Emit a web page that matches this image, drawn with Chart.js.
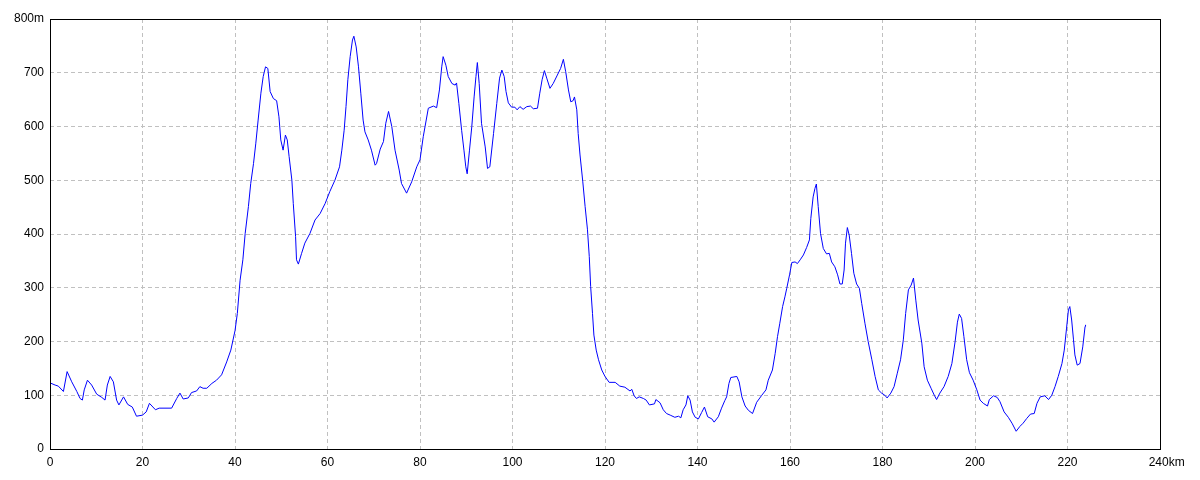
<!DOCTYPE html>
<html>
<head>
<meta charset="utf-8">
<script src="https://cdn.jsdelivr.net/npm/chart.js@4"></script>
<style>
  html, body { margin: 0; padding: 0; background: #fff; }
  #wrap { width: 1200px; height: 480px; }
</style>
</head>
<body>
<div id="wrap"><canvas id="myChart" width="1200" height="480"></canvas></div>
<script>
// distance along route (km) and elevation (m)
const distanceKm = [
  0, 1.1, 1.8, 2.9, 3.7, 4.7, 5.8, 6.5, 7.0, 7.4, 8.1, 9.0, 10.1, 11.2, 11.9, 12.4, 13.0, 13.7, 14.4, 14.9,
  15.9, 16.8, 17.8, 18.7, 20.0, 20.8, 21.5, 22.8, 23.6, 26.3, 27.4, 28.1, 28.8, 29.9, 30.6, 31.7, 32.4, 33.1, 33.9, 35.0,
  36.0, 37.1, 38.2, 39.1, 40.0, 40.5, 41.1, 41.7, 42.2, 42.9, 43.4, 44.0, 44.5, 45.0, 45.6, 46.1, 46.6, 47.1, 47.6, 48.3,
  49.0, 49.5, 49.9, 50.4, 50.9, 51.3, 51.7, 52.3, 52.6, 53.1, 53.3, 53.7, 54.4, 55.1, 56.2, 57.3, 58.4, 59.5, 60.5, 61.6,
  62.6, 63.1, 63.6, 64.0, 64.4, 64.9, 65.4, 65.7, 66.2, 66.7, 67.2, 67.7, 68.1, 68.8, 69.5, 70.3, 70.6, 71.4, 72.1, 72.6,
  73.2, 73.9, 74.6, 75.5, 76.0, 77.1, 78.2, 79.3, 80.0, 80.7, 81.8, 82.9, 83.6, 84.2, 84.7, 85.0, 85.6, 86.1, 86.9, 87.6,
  87.9, 88.4, 89.0, 89.5, 89.9, 90.2, 90.7, 91.2, 91.7, 92.1, 92.4, 92.8, 93.3, 94.1, 94.6, 95.1, 95.9, 96.6, 97.2, 97.7,
  98.2, 98.6, 99.1, 99.8, 100.5, 101.0, 101.6, 102.3, 103.1, 103.9, 104.5, 105.4, 105.9, 106.4, 106.9, 107.4, 108.1, 108.8, 109.6, 110.4,
  111.0, 111.5, 112.1, 112.6, 113.1, 113.4, 113.9, 114.2, 114.6, 115.2, 115.7, 116.2, 116.6, 116.9, 117.3, 117.6, 118.1, 118.6, 119.3, 120.0,
  120.9, 122.2, 123.2, 124.3, 125.4, 125.8, 126.3, 126.8, 127.4, 128.3, 128.9, 129.6, 130.7, 131.0, 131.9, 132.6, 133.3, 134.1, 135.1, 135.9,
  136.4, 136.9, 137.5, 137.9, 138.4, 138.9, 139.5, 140.2, 140.9, 141.5, 142.2, 143.1, 143.6, 144.5, 145.2, 145.9, 146.3, 146.8, 147.2, 148.5,
  149.0, 149.6, 150.3, 151.0, 151.9, 152.8, 153.9, 154.8, 155.3, 156.2, 156.8, 157.3, 157.8, 158.4, 158.9, 159.3, 159.9, 160.4, 161.1, 161.6,
  162.2, 162.9, 163.6, 164.2, 164.5, 165.0, 165.4, 165.7, 166.1, 166.6, 167.2, 167.9, 168.5, 169.0, 169.7, 170.3, 170.8, 171.3, 171.7, 172.0,
  172.4, 172.8, 173.3, 173.8, 174.4, 175.0, 175.5, 176.2, 176.9, 177.7, 178.4, 179.1, 179.8, 180.5, 181.0, 181.8, 182.5, 183.2, 183.9, 184.5,
  185.0, 185.6, 186.2, 186.7, 187.2, 187.7, 188.5, 189.0, 189.7, 190.5, 191.2, 191.7, 192.4, 193.3, 194.2, 195.0, 195.7, 196.2, 196.6, 197.1,
  197.6, 198.2, 198.8, 199.6, 200.4, 201.1, 201.8, 202.7, 203.1, 204.0, 204.8, 205.4, 206.3, 207.2, 208.0, 208.9, 209.7, 210.4, 211.2, 212.0,
  212.8, 213.4, 214.1, 215.1, 215.9, 216.6, 217.3, 218.0, 218.8, 219.3, 219.8, 220.2, 220.5, 220.9, 221.3, 221.6, 222.1, 222.7, 223.3, 223.8,
  223.9
];
const elevationM = [
  123, 119, 117, 107, 144, 125, 107, 94, 91, 110, 128, 119, 102, 96, 91, 119, 135, 125, 91, 82,
  97, 83, 78, 61, 63, 69, 85, 73, 76, 76, 94, 104, 93, 95, 105, 108, 116, 113, 113, 122,
  128, 138, 162, 184, 220, 252, 314, 352, 401, 451, 494, 531, 569, 612, 662, 693, 711, 708, 665, 652,
  648, 618, 575, 556, 584, 575, 544, 500, 457, 395, 352, 344, 364, 383, 401, 426, 438, 457, 479, 500,
  525, 556, 593, 637, 687, 730, 761, 768, 748, 711, 662, 612, 590, 575, 556, 528, 531, 558, 572, 606,
  628, 600, 556, 519, 494, 476, 497, 525, 538, 581, 634, 638, 635, 668, 711, 730, 714, 693, 680, 677,
  681, 643, 593, 556, 525, 512, 556, 600, 655, 693, 719, 680, 606, 562, 522, 525, 587, 643, 690, 705,
  693, 665, 644, 636, 636, 631, 637, 632, 637, 638, 633, 634, 662, 687, 704, 690, 671, 680, 694, 708,
  725, 702, 668, 646, 648, 655, 631, 587, 547, 497, 451, 409, 358, 302, 252, 212, 184, 166, 147, 135,
  124, 124, 117, 115, 108, 111, 99, 94, 97, 94, 91, 82, 84, 92, 86, 73, 66, 63, 59, 61,
  58, 73, 82, 99, 91, 69, 59, 56, 68, 78, 60, 56, 50, 60, 76, 90, 97, 122, 133, 135,
  125, 97, 80, 72, 66, 87, 100, 110, 128, 147, 178, 209, 234, 265, 283, 299, 324, 347, 348, 345,
  352, 361, 375, 389, 429, 469, 485, 493, 451, 401, 373, 363, 364, 348, 339, 324, 307, 307, 333, 383,
  412, 398, 364, 327, 307, 299, 271, 234, 200, 166, 135, 110, 104, 100, 95, 104, 116, 141, 166, 203,
  252, 296, 305, 318, 277, 240, 197, 153, 128, 113, 100, 92, 104, 116, 135, 159, 200, 236, 251, 243,
  209, 166, 142, 128, 110, 91, 85, 80, 92, 99, 96, 88, 69, 59, 48, 33, 42, 48, 57, 65,
  66, 85, 97, 99, 92, 100, 116, 135, 159, 184, 225, 259, 265, 240, 203, 175, 156, 159, 190, 228,
  231
];
const xMax = 240;
const yMax = 800;

const points = distanceKm.map((d, i) => ({ x: d, y: elevationM[i] }));

// black frame around the plot area
const frame = {
  id: "frame",
  afterDraw(chart) {
    const { ctx, chartArea: a } = chart;
    ctx.save();
    ctx.strokeStyle = "#000";
    ctx.lineWidth = 1;
    ctx.strokeRect(Math.round(a.left) + 0.5, Math.round(a.top) + 0.5,
      Math.round(a.right - a.left), Math.round(a.bottom - a.top));
    ctx.restore();
  },
};

const gridStyle = {
  color: "#c0c0c0",
  lineWidth: 1,
  drawTicks: false,
};

const ctx = document.getElementById("myChart").getContext("2d");
new Chart(ctx, {
  type: "line",
  data: {
    datasets: [
      {
        data: points,
        borderColor: "#0000ff",
        borderWidth: 1,
        pointRadius: 0,
        fill: false,
        tension: 0,
      },
    ],
  },
  options: {
    responsive: false,
    animation: false,
    layout: { padding: { top: 19, right: 40, left: 0, bottom: 0 } },
    scales: {
      x: {
        type: "linear",
        min: 0,
        max: xMax,
        grid: gridStyle,
        border: { display: false, dash: [4, 3] },
        ticks: {
          stepSize: 20,
          padding: 6,
          color: "#000",
          font: { family: "Liberation Sans", size: 12 },
          maxRotation: 0,
          callback: (v) => (v === xMax ? "    " + v + "km" : v),
        },
        afterFit: (s) => { s.height = 31; },
      },
      y: {
        min: 0,
        max: yMax,
        grid: gridStyle,
        border: { display: false, dash: [4, 3] },
        ticks: {
          stepSize: 100,
          padding: 6,
          color: "#000",
          font: { family: "Liberation Sans", size: 12 },
          callback: (v) => (v === yMax ? v + "m" : v),
        },
        afterFit: (s) => { s.width = 50; },
      },
    },
    plugins: { legend: { display: false }, tooltip: { enabled: false } },
  },
  plugins: [frame],
});
</script>
</body>
</html>
